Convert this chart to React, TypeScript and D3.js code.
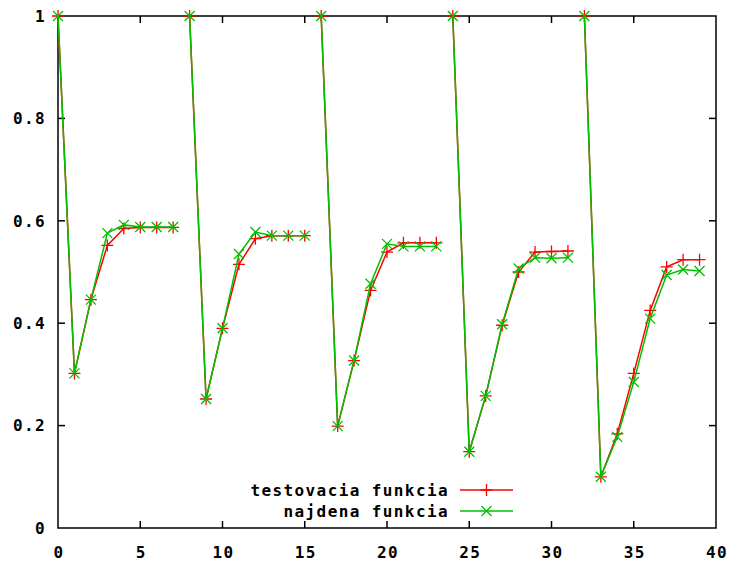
import React, { useEffect, useRef } from 'react';
import * as d3 from 'd3';

const xs = d3.range(0, 40);

// each run of 8 points is a separate block (gnuplot blank-line break)
const blockSize = 8;

const testovacia = [
  1, 0.302, 0.446, 0.552, 0.585, 0.587, 0.587, 0.587,
  1, 0.252, 0.39, 0.515, 0.565, 0.571, 0.571, 0.571,
  1, 0.199, 0.327, 0.464, 0.539, 0.557, 0.557, 0.557,
  1, 0.149, 0.258, 0.396, 0.5, 0.539, 0.54, 0.541,
  1, 0.1, 0.184, 0.302, 0.425, 0.51, 0.524, 0.524,
];

const najdena = [
  1, 0.302, 0.446, 0.576, 0.592, 0.588, 0.588, 0.588,
  1, 0.252, 0.39, 0.535, 0.578, 0.571, 0.571, 0.571,
  1, 0.199, 0.327, 0.477, 0.555, 0.55, 0.55, 0.55,
  1, 0.149, 0.258, 0.398, 0.507, 0.528, 0.527, 0.528,
  1, 0.1, 0.178, 0.285, 0.409, 0.494, 0.505, 0.502,
];

const xTicks = [0, 5, 10, 15, 20, 25, 30, 35, 40];
const yTicks = [0, 0.2, 0.4, 0.6, 0.8, 1];
const legendLabels = ['testovacia funkcia', 'najdena funkcia'];

const RED = '#ff0000';
const GREEN = '#00c000';
const FONT = '"DejaVu Sans Mono", monospace';

const Chart = () => {
  const ref = useRef(null);

  useEffect(() => {
    const svg = d3.select(ref.current);
    svg.selectAll('*').remove();

    const left = 58,
      right = 716,
      top = 16,
      bottom = 528;

    const x = d3.scaleLinear().domain([0, 40]).range([left, right]);
    const y = d3.scaleLinear().domain([0, 1]).range([bottom, top]);

    svg.append('rect').attr('width', 734).attr('height', 561).attr('fill', '#fff');

    const tickLen = 7;
    const g = svg.append('g').attr('stroke', '#000').attr('stroke-width', 1.5);

    // ticks, mirrored on all sides
    xTicks.slice(1, -1).forEach((t) => {
      g.append('line').attr('x1', x(t)).attr('x2', x(t)).attr('y1', bottom).attr('y2', bottom - tickLen);
      g.append('line').attr('x1', x(t)).attr('x2', x(t)).attr('y1', top).attr('y2', top + tickLen);
    });
    yTicks.slice(1, -1).forEach((t) => {
      g.append('line').attr('x1', left).attr('x2', left + tickLen).attr('y1', y(t)).attr('y2', y(t));
      g.append('line').attr('x1', right).attr('x2', right - tickLen).attr('y1', y(t)).attr('y2', y(t));
    });

    g.append('rect')
      .attr('x', left)
      .attr('y', top)
      .attr('width', right - left)
      .attr('height', bottom - top)
      .attr('fill', 'none');

    const txt = svg
      .append('g')
      .attr('font-family', FONT)
      .attr('font-weight', 'bold')
      .attr('font-size', 16)
      .attr('letter-spacing', 1.4)
      .attr('fill', '#000');

    yTicks.forEach((t) => {
      txt
        .append('text')
        .attr('x', 46)
        .attr('y', y(t))
        .attr('dy', '0.36em')
        .attr('text-anchor', 'end')
        .text(d3.format('~g')(t));
    });
    xTicks.forEach((t) => {
      txt
        .append('text')
        .attr('x', x(t) + 1)
        .attr('y', 552)
        .attr('dy', '0.36em')
        .attr('text-anchor', 'middle')
        .text(String(t));
    });

    const line = d3
      .line()
      .defined((d, i) => true)
      .x((d) => x(d[0]))
      .y((d) => y(d[1]));

    const series = [
      { vals: testovacia, color: RED, mark: 'plus' },
      { vals: najdena, color: GREEN, mark: 'cross' },
    ];

    const drawMark = (sel, cx, cy, kind, color) => {
      const s = kind === 'plus' ? 6 : 5;
      const p =
        kind === 'plus'
          ? `M${cx - s},${cy}H${cx + s}M${cx},${cy - s}V${cy + s}`
          : `M${cx - s},${cy - s}L${cx + s},${cy + s}M${cx - s},${cy + s}L${cx + s},${cy - s}`;
      sel.append('path').attr('d', p).attr('stroke', color).attr('stroke-width', 1.3).attr('fill', 'none');
    };

    series.forEach((s) => {
      const pts = xs.map((xv, i) => [xv, s.vals[i]]);
      const sg = svg.append('g');
      d3.range(0, pts.length, blockSize).forEach((start) => {
        sg.append('path')
          .attr('d', line(pts.slice(start, start + blockSize)))
          .attr('fill', 'none')
          .attr('stroke', s.color)
          .attr('stroke-width', 1.5);
      });
      pts.forEach((p) => drawMark(sg, x(p[0]), y(p[1]), s.mark, s.color));
    });

    // legend
    series.forEach((s, i) => {
      const ly = 490 + i * 21;
      txt
        .append('text')
        .attr('x', 449)
        .attr('y', ly)
        .attr('dy', '0.36em')
        .attr('text-anchor', 'end')
        .text(legendLabels[i]);
      const lg = svg.append('g');
      lg.append('line')
        .attr('x1', 460)
        .attr('x2', 513)
        .attr('y1', ly)
        .attr('y2', ly)
        .attr('stroke', s.color)
        .attr('stroke-width', 1.5);
      drawMark(lg, 486.5, ly, s.mark, s.color);
    });
  }, []);

  return <svg ref={ref} width={734} height={561}></svg>;
};

export default function App() {
  return (
    <div style={{ position: 'absolute', left: 0, top: 0 }}>
      <Chart />
    </div>
  );
}
